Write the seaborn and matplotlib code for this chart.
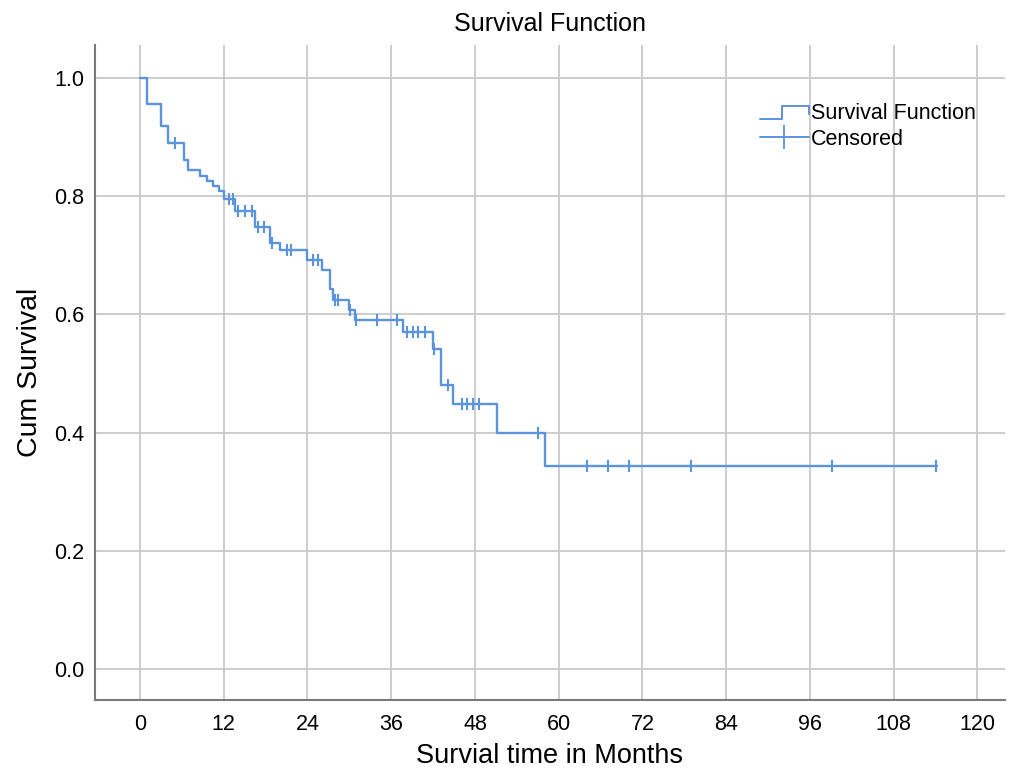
import numpy as np
import pandas as pd
import matplotlib
matplotlib.use("Agg")
import matplotlib.pyplot as plt
from matplotlib.lines import Line2D
from matplotlib.legend_handler import HandlerBase
import seaborn as sns

# step points of the Kaplan-Meier curve (time in months, survival after the drop)
event_times = [0, 1.0, 3.0, 4.05, 6.35, 6.9, 8.6, 9.6, 10.5, 11.3, 12.0, 13.6, 16.5,
               18.6, 20.0, 23.9, 26.1, 27.2, 27.7, 30.0, 30.8, 37.7, 42.0, 43.1,
               44.9, 51.1, 58.0]
survival = [1.0, 0.955, 0.918, 0.889, 0.861, 0.844, 0.834, 0.826, 0.817, 0.808, 0.795,
            0.774, 0.748, 0.721, 0.708, 0.692, 0.675, 0.642, 0.625, 0.607, 0.590,
            0.570, 0.542, 0.481, 0.448, 0.400, 0.343]
last_followup = 114.2

censored_times = [5.0, 12.8, 13.3, 14.1, 15.0, 16.0, 16.9, 17.7, 18.9, 21.0, 21.7,
                  24.8, 25.5, 28.0, 28.4, 30.1, 31.0, 34.0, 36.8, 38.2, 39.1, 39.9,
                  40.8, 42.1, 44.2, 46.1, 46.9, 47.7, 48.6, 57.0, 64.1, 67.1, 70.1,
                  79.0, 99.1, 114.1]

x_ticks = [0, 12, 24, 36, 48, 60, 72, 84, 96, 108, 120]
y_ticks = [0.0, 0.2, 0.4, 0.6, 0.8, 1.0]

line_color = "#5b93dc"
grid_color = "#c9c9c9"

curve = pd.DataFrame({"time": event_times + [last_followup],
                      "surv": survival + [survival[-1]]})
# survival level at each censoring time
idx = np.searchsorted(event_times, censored_times, side="right") - 1
cens = pd.DataFrame({"time": censored_times, "surv": np.array(survival)[idx]})

sns.set_style("white")
plt.rcParams["font.family"] = ["Liberation Sans", "DejaVu Sans"]
plt.rcParams["text.color"] = "black"
plt.rcParams["axes.labelcolor"] = "black"

fig = plt.figure(figsize=(10.22, 7.71), dpi=100)
ax = fig.add_axes([0.093, 0.092, 0.890, 0.850])

sns.lineplot(data=curve, x="time", y="surv", drawstyle="steps-post", estimator=None,
             color=line_color, linewidth=1.7, ax=ax)
sns.scatterplot(data=cens, x="time", y="surv", marker="|", s=80, linewidth=1.5,
                color=line_color, ax=ax, zorder=3)

ax.set_xlim(-6.44, 123.9)
ax.set_ylim(-0.0525, 1.056)
ax.set_xticks(x_ticks)
ax.set_yticks(y_ticks)
ax.set_yticklabels([f"{v:.1f}" for v in y_ticks])
ax.tick_params(axis="both", length=0, labelsize=15.5, colors="black")
ax.tick_params(axis="x", pad=10)
ax.tick_params(axis="y", pad=8)
ax.grid(True, color=grid_color, linewidth=1.3)
ax.set_axisbelow(True)
for side in ["top", "right"]:
    ax.spines[side].set_visible(False)
for side in ["left", "bottom"]:
    ax.spines[side].set_color("#7a7a7a")
    ax.spines[side].set_linewidth(1.5)

ax.set_title("Survival Function", fontsize=18, pad=10)
ax.set_xlabel("Survial time in Months", fontsize=19.5, labelpad=5.5)
ax.set_ylabel("Cum Survival", fontsize=20.5, labelpad=8)


class StepHandler(HandlerBase):
    def create_artists(self, legend, orig_handle, x0, y0, width, height, fontsize, trans):
        xs = [x0, x0 + width * 0.45, x0 + width * 0.45, x0 + width, x0 + width]
        ys = [y0 + height * 0.05, y0 + height * 0.05, y0 + height * 0.9,
              y0 + height * 0.9, y0 + height * 0.35]
        ln = Line2D(xs, ys, color=line_color, linewidth=1.4, transform=trans)
        return [ln]


step_handle = Line2D([], [], color=line_color)
cens_handle = Line2D([], [], color=line_color, marker="|", markersize=17,
                     markeredgewidth=1.3, linewidth=1.4)
ax.legend([step_handle, cens_handle], ["Survival Function", "Censored"],
          handler_map={step_handle: StepHandler()}, loc="upper right",
          bbox_to_anchor=(0.99, 0.94), frameon=False, fontsize=15.5,
          handlelength=2.3, handletextpad=0.1, labelspacing=0.2)

fig.savefig("out.png", dpi=100)
